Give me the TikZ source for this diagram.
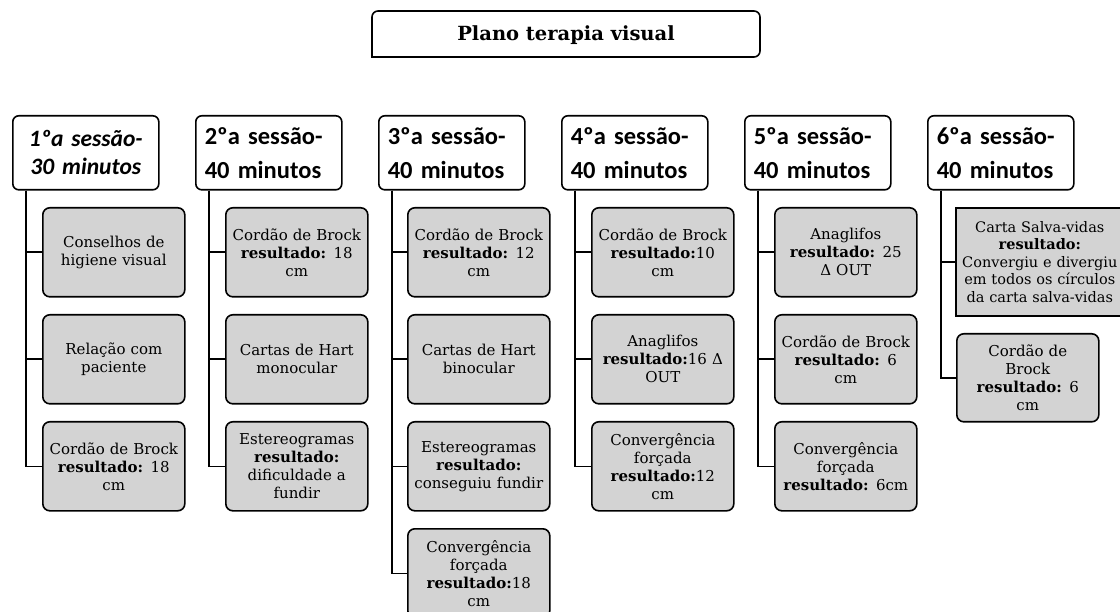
\documentclass[tikz,border=0pt]{standalone}
\usepackage{fontspec}
\setmainfont{DejaVu Serif}
\newfontfamily\hdrfont{Carlito}
\definecolor{boxgray}{HTML}{D3D3D3}
\begin{document}
\begin{tikzpicture}[x=1pt,y=-1pt,
  hdr/.style={draw, line width=1.6pt, rounded corners=6pt, fill=white,
    minimum width=146pt, minimum height=74pt, anchor=north west,
    text width=128pt, inner xsep=9pt, inner ysep=0pt, align=left,
    font=\hdrfont\bfseries\fontsize{24.5}{34}\selectfont},
  item/.style={draw, line width=1.6pt, rounded corners=7pt, fill=boxgray,
    minimum width=142pt, minimum height=89pt, text width=140pt, inner sep=0pt,
    align=center, anchor=north west,
    font=\fontsize{15}{18}\selectfont},
  conn/.style={line width=1.6pt},
  ttl/.style={font=\bfseries\fontsize{19.5}{23}\selectfont}
]
\useasboundingbox (0,0) rectangle (1120,612);
\clip (0,0) rectangle (1120,612);
\fill[white] (0,0) rectangle (1120,612);

% title
\draw[line width=1.6pt, rounded corners=6pt] (372,57) -- (372,11) -- (760,11) -- (760,57) [sharp corners] -- cycle;
\node[ttl] (title) at (566,35) {Plano terapia visual};

% headers
\node[hdr, align=center, font=\hdrfont\bfseries\itshape\fontsize{23.5}{28}\selectfont] (h1) at (12,115) {1ºa sessão-\\30 minutos};
\node[hdr] (h2) at (195,115) {2ºa sessão-\\40 minutos};
\node[hdr] (h3) at (378,115) {3ºa sessão-\\40 minutos};
\node[hdr] (h4) at (561,115) {4ºa sessão-\\40 minutos};
\node[hdr] (h5) at (744,115) {5ºa sessão-\\40 minutos};
\node[hdr] (h6) at (927,115) {6ºa sessão-\\40 minutos};

% column 1
\node[item] (c11) at (42,207) {Conselhos de\\higiene visual};
\node[item] (c12) at (42,314) {Relação com\\paciente};
\node[item] (c13) at (42,421) {Cordão de Brock\\\textbf{resultado:} 18\\cm};
% column 2
\node[item] (c21) at (225,207) {Cordão de Brock\\\textbf{resultado:} 18\\cm};
\node[item] (c22) at (225,314) {Cartas de Hart\\monocular};
\node[item] (c23) at (225,421) {Estereogramas\\\textbf{resultado:}\\dificuldade a\\fundir};
% column 3
\node[item] (c31) at (407,207) {Cordão de Brock\\\textbf{resultado:} 12\\cm};
\node[item] (c32) at (407,314) {Cartas de Hart\\binocular};
\node[item] (c33) at (407,421) {Estereogramas\\\textbf{resultado:}\\conseguiu fundir};
\node[item] (c34) at (407,528) {Convergência\\forçada\\\textbf{resultado:}18\\cm};
% column 4
\node[item] (c41) at (591,207) {Cordão de Brock\\\textbf{resultado:}10\\cm};
\node[item] (c42) at (591,314) {Anaglifos\\\textbf{resultado:}16 Δ\\OUT};
\node[item] (c43) at (591,421) {Convergência\\forçada\\\textbf{resultado:}12\\cm};
% column 5
\node[item] (c51) at (774,207) {Anaglifos\\\textbf{resultado:} 25\\Δ OUT};
\node[item] (c52) at (774,314) {Cordão de Brock\\\textbf{resultado:} 6\\cm};
\node[item] (c53) at (774,421) {Convergência\\forçada\\\textbf{resultado:} 6cm};
% column 6
\node[item, sharp corners, minimum width=168pt, minimum height=108pt, text width=166pt,
      font=\fontsize{14.5}{17.5}\selectfont] (c61) at (955,207)
  {Carta Salva-vidas\\\textbf{resultado:}\\Convergiu e divergiu\\em todos os círculos\\da carta salva-vidas};
\node[item, minimum height=88pt] (c62) at (956,333) {Cordão de\\Brock\\\textbf{resultado:} 6\\cm};

% connectors
\foreach \h/\c in {h1/c11,h1/c12,h1/c13,
                   h2/c21,h2/c22,h2/c23,
                   h3/c31,h3/c32,h3/c33,h3/c34,
                   h4/c41,h4/c42,h4/c43,
                   h5/c51,h5/c52,h5/c53,
                   h6/c61,h6/c62}
  \draw[conn] ([xshift=14pt]\h.south west) |- (\c.west);
\end{tikzpicture}
\end{document}
